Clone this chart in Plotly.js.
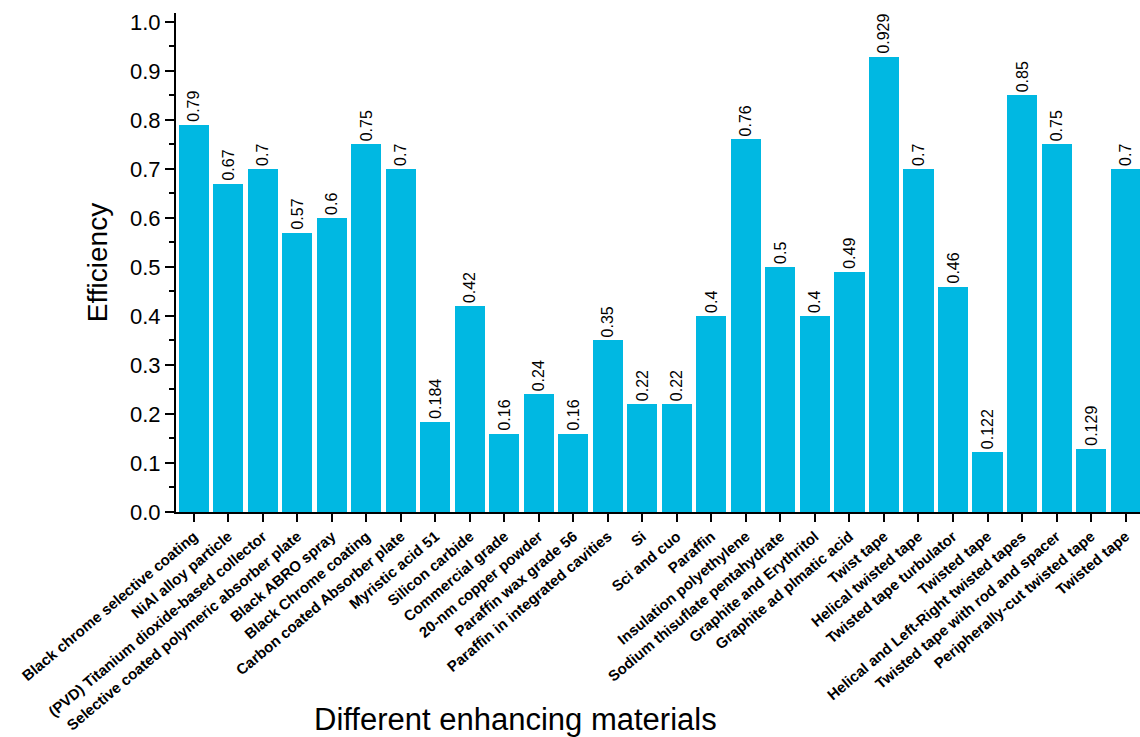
<!DOCTYPE html>
<html>
<head>
<meta charset="utf-8">
<script src="https://cdn.plot.ly/plotly-3.0.1.min.js"></script>
<style>html,body{margin:0;padding:0;background:#fff;}#chart{width:1140px;height:737px;}</style>
</head>
<body>
<div id="chart"></div>
<script>
const categories = [
  "Black chrome selective coating",
  "NiAl alloy particle",
  "(PVD) Titanium dioxide-based collector",
  "Selective coated polymeric absorber plate",
  "Black ABRO spray",
  "Black Chrome coating",
  "Carbon coated Absorber plate",
  "Myristic acid 51",
  "Silicon carbide",
  "Commercial grade",
  "20-nm copper powder",
  "Paraffin wax grade 56",
  "Paraffin in integrated cavities",
  "Si",
  "Sci and cuo",
  "Paraffin",
  "Insulation polyethylene",
  "Sodium thisuflate pentahydrate",
  "Graphite and Erythritol",
  "Graphite ad plmatic acid",
  "Twist tape",
  "Helical twisted tape",
  "Twisted tape turbulator",
  "Twisted tape",
  "Helical and Left-Right twisted tapes",
  "Twisted tape with rod and spacer",
  "Peripherally-cut twisted tape",
  "Twisted tape"
];
const efficiency = [0.79, 0.67, 0.7, 0.57, 0.6, 0.75, 0.7, 0.184, 0.42, 0.16, 0.24, 0.16, 0.35, 0.22, 0.22, 0.4, 0.76, 0.5, 0.4, 0.49, 0.929, 0.7, 0.46, 0.122, 0.85, 0.75, 0.129, 0.7];
const yTicks = [0.0, 0.1, 0.2, 0.3, 0.4, 0.5, 0.6, 0.7, 0.8, 0.9, 1.0];

const positions = categories.map((c, i) => i);
const font = "Arial, 'Liberation Sans', sans-serif";

const trace = {
  type: 'bar',
  x: positions,
  y: efficiency,
  width: 0.87,
  marker: {color: '#00B8E2', line: {width: 0}},
  text: efficiency.map(v => String(v)),
  textposition: 'outside',
  textangle: -90,
  constraintext: 'none',
  cliponaxis: false,
  textfont: {family: font, size: 16, color: '#000'},
  hoverinfo: 'x+y'
};

const layout = {
  width: 1140, height: 737,
  margin: {l: 176, r: 0, t: 13, b: 225},
  paper_bgcolor: '#fff', plot_bgcolor: '#fff',
  showlegend: false,
  bargap: 0,
  xaxis: {
    range: [-0.52, 27.42],
    tickmode: 'array',
    tickvals: positions,
    ticktext: categories.map(c => '<b>' + c + '</b>'),
    tickangle: -40,
    ticks: 'outside', ticklen: 8, tickwidth: 2, tickcolor: '#000',
    tickfont: {family: font, size: 15, color: '#000'},
    showline: true, linecolor: '#000', linewidth: 2,
    showgrid: false, zeroline: false,
    automargin: false
  },
  yaxis: {
    range: [0, 1.018],
    tickmode: 'array',
    tickvals: yTicks,
    ticktext: yTicks.map(v => v.toFixed(1)),
    ticks: 'outside', ticklen: 9, tickwidth: 2, tickcolor: '#000',
    minor: {dtick: 0.05, tick0: 0.05, ticks: 'outside', ticklen: 5, tickwidth: 2, tickcolor: '#000', showgrid: false},
    tickfont: {family: font, size: 22, color: '#000'},
    showline: true, linecolor: '#000', linewidth: 2,
    showgrid: false, zeroline: false,
    title: {text: 'Efficiency', font: {family: font, size: 28, color: '#000'}, standoff: 14},
    automargin: false
  },
  annotations: [{
    text: 'Different enhancing materials',
    xref: 'paper', yref: 'paper',
    x: (515 - 176) / (1140 - 176), y: -(719 - 512) / (512 - 13),
    xanchor: 'center', yanchor: 'middle',
    showarrow: false,
    font: {family: font, size: 31, color: '#000'}
  }]
};

Plotly.newPlot('chart', [trace], layout, {displayModeBar: false, staticPlot: true});
</script>
</body>
</html>
